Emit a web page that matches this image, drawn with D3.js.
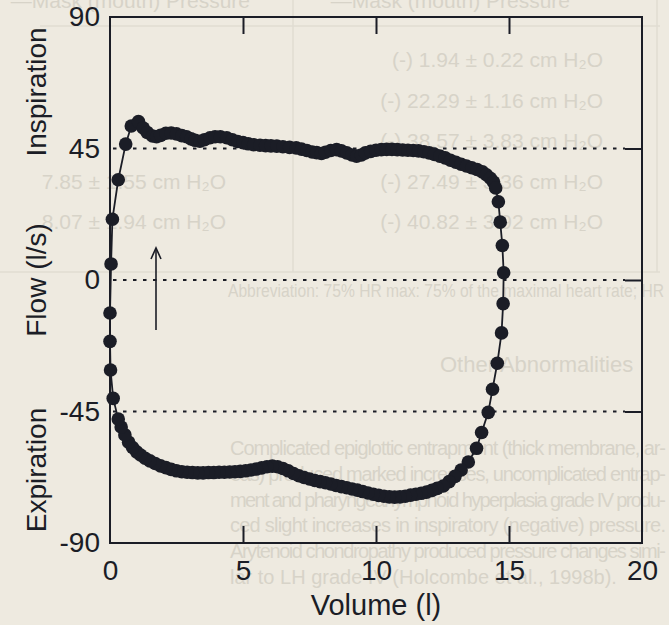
<!DOCTYPE html>
<html>
<head>
<meta charset="utf-8">
<script src="https://cdn.jsdelivr.net/npm/d3@7"></script>
<style>
  html, body { margin: 0; padding: 0; background: #eeeae0; }
  svg { display: block; font-family: "Liberation Sans", Arial, sans-serif; }
</style>
</head>
<body>
<script>
// flow-volume loop, volume in l, flow in l/s (inspiration positive)
const inspVolume = [0.12, 0.02, 0.0, 0.0, 0.04, 0.09, 0.31, 0.59, 0.8, 1.07,
  1.25, 1.4, 1.6, 1.75, 1.9, 2.1, 2.3, 2.5, 2.7, 2.88, 3.05, 3.2, 3.38, 3.55, 3.76, 3.95,
  4.15, 4.39, 4.6, 4.8, 5.0, 5.2, 5.4, 5.64, 5.85, 6.05, 6.27, 6.5, 6.75, 7.0, 7.2, 7.4,
  7.6, 7.77, 7.95, 8.1, 8.3, 8.52, 8.7, 8.9, 9.1, 9.27, 9.45, 9.6, 9.8, 10.0, 10.2, 10.4,
  10.6, 10.8, 11.0, 11.2, 11.4, 11.6, 11.8, 12.0, 12.2, 12.4, 12.6, 12.8, 13.0, 13.2,
  13.4, 13.6, 13.8, 14.0, 14.15, 14.3, 14.42, 14.5, 14.6, 14.67, 14.75, 14.8]
const inspFlow = [-40.5, -30.8, -21.0, -11.3, 5.5, 20.8, 34.3, 46.5, 52.7, 54.2,
  52.0, 50.5, 49.3, 49.0, 49.5, 50.2, 50.3, 50.0, 49.4, 49.0, 48.3, 47.8, 47.5, 48.0, 48.7, 49.0,
  49.0, 48.7, 48.0, 47.4, 47.0, 46.6, 46.3, 46.1, 46.0, 45.9, 45.8, 45.6, 45.4, 45.2, 44.8, 44.3,
  43.8, 43.6, 43.3, 43.7, 44.3, 44.6, 44.2, 43.5, 42.8, 42.4, 42.8, 43.5, 44.0, 44.4, 44.6, 44.7,
  44.7, 44.6, 44.5, 44.4, 44.3, 44.2, 43.9, 43.5, 43.0, 42.4, 41.8, 41.0, 40.3, 39.6,
  39.0, 38.4, 37.8, 37.0, 36.0, 34.8, 33.5, 31.5, 26.8, 19.8, 11.8, 2.5]

const expVolume = [14.78, 14.72, 14.56, 14.38, 14.22, 13.97, 13.78, 13.47, 13.2, 12.97,
  12.75, 12.53, 12.3, 12.1, 11.9, 11.7, 11.5, 11.3, 11.1, 10.9, 10.7, 10.5, 10.3, 10.1,
  9.9, 9.7, 9.5, 9.3, 9.1, 8.9, 8.7, 8.5, 8.3, 8.1, 7.9, 7.7, 7.5, 7.3, 7.1, 6.9, 6.7,
  6.5, 6.3, 6.1, 5.9, 5.7, 5.5, 5.3, 5.1, 4.9, 4.7, 4.5, 4.3, 4.1, 3.9, 3.7, 3.5, 3.3,
  3.1, 2.9, 2.7, 2.5, 2.3, 2.1, 1.9, 1.7, 1.5, 1.32, 1.15, 1.0, 0.85, 0.7, 0.56, 0.42, 0.31]
const expFlow = [-8.1, -18.1, -28.5, -37.4, -45.3, -52.2, -57.6, -62.3, -65.0, -67.2,
  -69.0, -70.5, -71.3, -72.0, -72.6, -73.0, -73.3, -73.6, -74.0, -74.2, -74.3, -74.2, -74.0, -73.7,
  -73.3, -72.9, -72.4, -71.9, -71.5, -71.1, -70.7, -70.3, -69.8, -69.4, -69.0, -68.6, -68.1, -67.6, -67.0, -66.2, -65.3,
  -64.5, -63.9, -63.7, -63.9, -64.3, -64.7, -65.0, -65.3, -65.5, -65.6, -65.7, -65.8, -65.8, -65.9, -65.9, -66.0, -66.0,
  -65.9, -65.8, -65.6, -65.3, -64.8, -64.2, -63.6, -62.8, -61.9, -61.0, -59.9, -58.8, -57.3, -55.5, -53.0, -50.3, -47.6]

const xTicks = [0, 5, 10, 15, 20]
const yTicks = [-90, -45, 0, 45, 90]
const refLines = [-45, 0, 45]

// faint show-through text of the scanned page
const tableRight = ["(-) 1.94 \u00b1 0.22 cm H\u2082O", "(-) 22.29 \u00b1 1.16 cm H\u2082O",
  "(-) 38.57 \u00b1 3.83 cm H\u2082O", "(-) 27.49 \u00b1 3.36 cm H\u2082O", "(-) 40.82 \u00b1 3.92 cm H\u2082O"]
const tableLeft = ["", "", "", "7.85 \u00b1 1.55 cm H\u2082O", "8.07 \u00b1 1.94 cm H\u2082O"]
const bodyLines = ["Complicated epiglottic entrapment (thick membrane, ar-",
  "eas) produced marked increases, uncomplicated entrap-",
  "ment and pharyngeal lymphoid hyperplasia grade IV produ-",
  "ced slight increases in inspiratory (negative) pressure.",
  "Arytenoid chondropathy produced pressure changes simi-",
  "lar to LH grade IV (Holcombe et al., 1998b)."]

const w = 669, h = 625
const ink = "#1b1d26"
const faint = "#d7d3c8"
const padL = 110, padR = 642, padT = 17, padB = 543

const svg = d3.select("body").append("svg")
  .attr("width", w)
  .attr("height", h)

svg.append("rect").attr("width", w).attr("height", h).attr("fill", "#eeeae0")

// background page (faint)
const bg = svg.append("g").attr("fill", faint).style("font-size", "21px")
bg.append("text").attr("x", 250).attr("y", 8).attr("text-anchor", "end").text("\u2014Mask (mouth) Pressure")
bg.append("text").attr("x", 570).attr("y", 8).attr("text-anchor", "end").text("\u2014Mask (mouth) Pressure")
tableRight.forEach((t, i) => {
  bg.append("text").attr("x", 603).attr("y", 67 + i * 40.5).attr("text-anchor", "end").text(t)
})
tableLeft.forEach((t, i) => {
  bg.append("text").attr("x", 226).attr("y", 67 + i * 40.5).attr("text-anchor", "end").text(t)
})
bg.append("text").attr("x", 228).attr("y", 297).style("font-size", "19px")
  .attr("textLength", 436).attr("lengthAdjust", "spacingAndGlyphs")
  .text("Abbreviation: 75% HR max: 75% of the maximal heart rate; HR")
bg.append("text").attr("x", 440).attr("y", 372).style("font-size", "22px").text("Other Abnormalities")
bodyLines.forEach((t, i) => {
  const tx = bg.append("text").attr("x", 230).attr("y", 455 + i * 25.8).style("font-size", "20px").text(t)
  if (i < bodyLines.length - 1) tx.attr("textLength", 436).attr("lengthAdjust", "spacing")
})
const bgLines = svg.append("g").attr("stroke", "#e0dcd2").attr("stroke-width", 1.5)
bgLines.append("line").attr("x1", 293).attr("x2", 293).attr("y1", 0).attr("y2", 272)
bgLines.append("line").attr("x1", 657).attr("x2", 657).attr("y1", 0).attr("y2", 272)
bgLines.append("line").attr("x1", 0).attr("x2", 660).attr("y1", 272).attr("y2", 272)
bgLines.append("line").attr("x1", 40).attr("x2", 660).attr("y1", 26).attr("y2", 26)

const xScale = d3.scaleLinear().domain([0, 20]).range([padL, padR])
const yScale = d3.scaleLinear().domain([-90, 90]).range([padB, padT])

// dotted reference lines
svg.selectAll(".ref")
  .data(refLines)
  .enter()
  .append("line")
  .attr("class", "ref")
  .attr("x1", padL + 3)
  .attr("x2", padR - 17)
  .attr("y1", d => yScale(d))
  .attr("y2", d => yScale(d))
  .attr("stroke", ink)
  .attr("stroke-width", 2.2)
  .attr("stroke-dasharray", "3.5,6.5")

// frame
svg.append("rect")
  .attr("x", padL).attr("y", padT)
  .attr("width", padR - padL).attr("height", padB - padT)
  .attr("fill", "none").attr("stroke", ink).attr("stroke-width", 2)

const styleAxis = g => {
  g.select(".domain").remove()
  g.selectAll("line").attr("stroke", ink).attr("stroke-width", 2)
  g.selectAll("text").attr("fill", ink).style("font-size", "28px")
    .style("font-family", "'Liberation Sans', Arial, sans-serif")
}

// inner ticks
svg.append("g").attr("transform", "translate(0," + padB + ")")
  .call(d3.axisTop(xScale).tickValues([5, 10, 15]).tickSize(17).tickFormat(""))
  .call(styleAxis)
svg.append("g").attr("transform", "translate(0," + padT + ")")
  .call(d3.axisBottom(xScale).tickValues([5, 10, 15]).tickSize(17).tickFormat(""))
  .call(styleAxis)
svg.append("g").attr("transform", "translate(" + padR + ",0)")
  .call(d3.axisLeft(yScale).tickValues(refLines).tickSize(17).tickFormat(""))
  .call(styleAxis)

// tick labels
svg.append("g").attr("transform", "translate(0," + padB + ")")
  .call(d3.axisBottom(xScale).tickValues(xTicks).tickSize(0).tickPadding(17))
  .call(styleAxis)
svg.append("g").attr("transform", "translate(" + padL + ",0)")
  .call(d3.axisLeft(yScale).tickValues(yTicks).tickSize(0).tickPadding(10).tickFormat(d => String(d)))
  .call(styleAxis)

// axis titles
svg.append("text")
  .attr("x", xScale(10)).attr("y", 615)
  .attr("text-anchor", "middle")
  .attr("fill", ink)
  .style("font-size", "29px")
  .text("Volume (l)")

const yTitles = [["Inspiration", 92], ["Flow (l/s)", yScale(0)], ["Expiration", 470]]
yTitles.forEach(([t, cy]) => {
  svg.append("text")
    .attr("transform", "translate(46," + cy + ") rotate(-90)")
    .attr("text-anchor", "middle")
    .attr("fill", ink)
    .style("font-size", "28px")
    .text(t)
})

// arrow
svg.append("line").attr("x1", 156).attr("x2", 156).attr("y1", 330).attr("y2", 249)
  .attr("stroke", ink).attr("stroke-width", 1.6)
svg.append("polyline").attr("points", "151,259 156,248 161,259")
  .attr("fill", "none").attr("stroke", ink).attr("stroke-width", 1.6)

// loop
const points = inspVolume.map((v, i) => ({ v: v, f: inspFlow[i] }))
  .concat(expVolume.map((v, i) => ({ v: v, f: expFlow[i] })))

const line = d3.line().x(d => xScale(d.v)).y(d => yScale(d.f))
svg.append("path")
  .datum(points.concat([points[0]]))
  .attr("d", line)
  .attr("fill", "none")
  .attr("stroke", ink)
  .attr("stroke-width", 1.8)

svg.selectAll(".dot")
  .data(points)
  .enter()
  .append("circle")
  .attr("class", "dot")
  .attr("cx", d => xScale(d.v))
  .attr("cy", d => yScale(d.f))
  .attr("r", 6.8)
  .attr("fill", ink)
</script>
</body>
</html>
